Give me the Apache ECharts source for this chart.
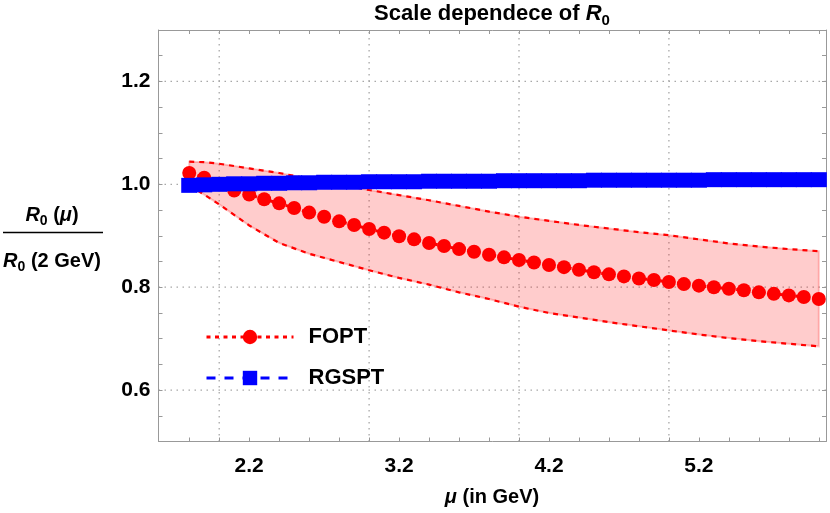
<!DOCTYPE html>
<html>
<head>
<meta charset="utf-8">
<script src="https://cdn.jsdelivr.net/npm/echarts@6/dist/echarts.min.js"></script>
<style>
  html, body { margin: 0; padding: 0; background: #fff; }
  #main { width: 830px; height: 513px; }
</style>
</head>
<body>
<div id="main"></div>
<script>
// scale values (GeV)
var muValues = [1.8, 1.9, 2.0, 2.1, 2.2, 2.3, 2.4, 2.5, 2.6, 2.7, 2.8, 2.9, 3.0, 3.1, 3.2, 3.3, 3.4, 3.5, 3.6, 3.7,
  3.8, 3.9, 4.0, 4.1, 4.2, 4.3, 4.4, 4.5, 4.6, 4.7, 4.8, 4.9, 5.0, 5.1, 5.2, 5.3, 5.4, 5.5, 5.6, 5.7, 5.8, 5.9, 6.0]
var foptValues = [1.022, 1.013, 1.000, 0.988, 0.980, 0.971, 0.963, 0.954, 0.945, 0.937, 0.928, 0.921, 0.913, 0.906,
  0.899, 0.893, 0.886, 0.880, 0.874, 0.869, 0.863, 0.858, 0.853, 0.848, 0.843, 0.839, 0.834, 0.829, 0.825, 0.821,
  0.817, 0.814, 0.810, 0.806, 0.803, 0.800, 0.797, 0.794, 0.790, 0.787, 0.784, 0.781, 0.777]
var rgsptValues = [0.998, 0.999, 1.000, 1.001, 1.001, 1.002, 1.002, 1.003, 1.003, 1.004, 1.004, 1.004, 1.005, 1.005,
  1.005, 1.005, 1.006, 1.006, 1.006, 1.006, 1.006, 1.007, 1.007, 1.007, 1.007, 1.007, 1.007, 1.008, 1.008, 1.008,
  1.008, 1.008, 1.008, 1.008, 1.008, 1.009, 1.009, 1.009, 1.009, 1.009, 1.009, 1.009, 1.009]

// FOPT scale-variation band
var bandMu = [1.8, 1.9, 2.0, 2.2, 2.4, 2.6, 2.8, 3.0, 3.2, 3.4, 3.6, 3.8, 4.0, 4.2, 4.4, 4.6, 4.8, 5.0, 5.2, 5.4, 5.6, 5.8, 6.0]
var bandUpper = [1.044, 1.043, 1.040, 1.031, 1.022, 1.011, 1.000, 0.989, 0.979, 0.969, 0.958, 0.947, 0.937, 0.929,
  0.921, 0.914, 0.907, 0.901, 0.893, 0.885, 0.879, 0.874, 0.870]
var bandLower = [0.998, 0.980, 0.961, 0.920, 0.886, 0.865, 0.849, 0.833, 0.818, 0.805, 0.790, 0.777, 0.762, 0.750,
  0.741, 0.732, 0.724, 0.716, 0.708, 0.701, 0.695, 0.690, 0.685]

// axes
var xTicks = [1.8, 2.0, 2.2, 2.4, 2.6, 2.8, 3.0, 3.2, 3.4, 3.6, 3.8, 4.0, 4.2, 4.4, 4.6, 4.8, 5.0, 5.2, 5.4, 5.6, 5.8, 6.0]
var xLabels = [2.2, 3.2, 4.2, 5.2]
var xGrid = [2, 3, 4, 5]
var yTicks = [0.55, 0.6, 0.65, 0.7, 0.75, 0.8, 0.85, 0.9, 0.95, 1.0, 1.05, 1.1, 1.15, 1.2, 1.25]
var yLabels = [0.6, 0.8, 1.0, 1.2]
var yGrid = [0.6, 0.8, 1.0, 1.2]

var X_MIN = 1.595, X_MAX = 6.048, Y_MIN = 0.5, Y_MAX = 1.3
var FONT = '"Liberation Sans", Arial, sans-serif'
var FRAME = '#999999'
var GRID = '#a8a8a8'

var chart = echarts.init(document.getElementById('main'))

function pairs(xs, ys) {
  return xs.map(function (x, i) { return [x, ys[i]] })
}

function frameAxis(pos, min, max, ticks, labels, showLabel) {
  return {
    type: 'value',
    position: pos,
    min: min,
    max: max,
    axisLine: { show: true, onZero: false, lineStyle: { color: FRAME, width: 1 } },
    axisTick: { show: true, inside: true, length: 4, customValues: ticks, lineStyle: { color: FRAME } },
    axisLabel: {
      show: showLabel,
      customValues: labels,
      margin: pos === 'left' ? 8 : 14,
      color: '#000',
      fontSize: 21,
      fontWeight: 'bold',
      fontFamily: FONT,
      formatter: function (v) { return v.toFixed(1) },
    },
    splitLine: { show: false },
  }
}

var option = {
  animation: false,
  backgroundColor: '#fff',
  grid: { left: 158.5, right: 4, top: 30, bottom: 71.5 },
  xAxis: [
    frameAxis('bottom', X_MIN, X_MAX, xTicks, xLabels, true),
    frameAxis('top', X_MIN, X_MAX, xTicks, xLabels, false),
  ],
  yAxis: [
    frameAxis('left', Y_MIN, Y_MAX, yTicks, yLabels, true),
    frameAxis('right', Y_MIN, Y_MAX, yTicks, yLabels, false),
  ],
  legend: {
    data: [
      { name: 'FOPT', lineStyle: { width: 3, type: [4, 4.5] } },
      { name: 'RGSPT', lineStyle: { width: 3, type: [9, 9] } },
    ],
    orient: 'vertical',
    left: 200,
    top: 321,
    itemWidth: 87,
    itemHeight: 18,
    itemGap: 19,
    selectedMode: false,
    textStyle: { fontSize: 22, fontWeight: 'bold', color: '#000', fontFamily: FONT, padding: [0, 0, 0, 10] },
  },
  graphic: [
    {
      type: 'text',
      x: 492,
      y: 14,
      style: {
        text: '{a|Scale dependece of }{r|R}{s|0}',
        align: 'center',
        verticalAlign: 'middle',
        textAlign: 'center',
        textVerticalAlign: 'middle',
        rich: {
          a: { fontSize: 22, fontWeight: 'bold', fontFamily: FONT, fill: '#000', lineHeight: 28 },
          r: { fontSize: 22, fontWeight: 'bold', fontStyle: 'italic', fontFamily: FONT, fill: '#000', lineHeight: 28 },
          s: { fontSize: 15, fontWeight: 'bold', fontFamily: FONT, fill: '#000', lineHeight: 28, verticalAlign: 'bottom' },
        },
      },
    },
    {
      type: 'text',
      x: 492,
      y: 497,
      style: {
        text: '{m|μ}{a| (in GeV)}',
        align: 'center',
        verticalAlign: 'middle',
        textAlign: 'center',
        textVerticalAlign: 'middle',
        rich: {
          m: { fontSize: 20, fontWeight: 'bold', fontStyle: 'italic', fontFamily: FONT, fill: '#000' },
          a: { fontSize: 20, fontWeight: 'bold', fontFamily: FONT, fill: '#000' },
        },
      },
    },
    {
      type: 'text',
      x: 52,
      y: 215,
      style: {
        text: '{r|R}{s|0}{a| (}{m|μ}{a|)}',
        align: 'center',
        verticalAlign: 'middle',
        textAlign: 'center',
        textVerticalAlign: 'middle',
        rich: {
          r: { fontSize: 20, fontWeight: 'bold', fontStyle: 'italic', fontFamily: FONT, fill: '#000', lineHeight: 26 },
          s: { fontSize: 14, fontWeight: 'bold', fontFamily: FONT, fill: '#000', lineHeight: 26, verticalAlign: 'bottom' },
          a: { fontSize: 20, fontWeight: 'bold', fontFamily: FONT, fill: '#000', lineHeight: 26 },
          m: { fontSize: 20, fontWeight: 'bold', fontStyle: 'italic', fontFamily: FONT, fill: '#000', lineHeight: 26 },
        },
      },
    },
    {
      type: 'line',
      shape: { x1: 3, y1: 232.5, x2: 103, y2: 232.5 },
      style: { stroke: '#000', lineWidth: 1.6 },
    },
    {
      type: 'text',
      x: 52,
      y: 261,
      style: {
        text: '{r|R}{s|0}{a| (2 GeV)}',
        align: 'center',
        verticalAlign: 'middle',
        textAlign: 'center',
        textVerticalAlign: 'middle',
        rich: {
          r: { fontSize: 20, fontWeight: 'bold', fontStyle: 'italic', fontFamily: FONT, fill: '#000', lineHeight: 26 },
          s: { fontSize: 14, fontWeight: 'bold', fontFamily: FONT, fill: '#000', lineHeight: 26, verticalAlign: 'bottom' },
          a: { fontSize: 20, fontWeight: 'bold', fontFamily: FONT, fill: '#000', lineHeight: 26 },
        },
      },
    },
  ],
  series: [
    {
      // vertical dotted grid lines
      type: 'custom',
      silent: true,
      z: 0,
      data: xGrid.map(function (v) { return [v, Y_MIN] }),
      renderItem: function (params, api) {
        var a = api.coord([api.value(0), Y_MIN])
        var b = api.coord([api.value(0), Y_MAX])
        return {
          type: 'line',
          shape: { x1: a[0], y1: a[1], x2: b[0], y2: b[1] },
          style: { stroke: GRID, lineWidth: 1.3, lineDash: [1.5, 4.5] },
        }
      },
    },
    {
      // horizontal dotted grid lines
      type: 'custom',
      silent: true,
      z: 0,
      data: yGrid.map(function (v) { return [X_MIN, v] }),
      renderItem: function (params, api) {
        var a = api.coord([X_MIN, api.value(1)])
        var b = api.coord([X_MAX, api.value(1)])
        return {
          type: 'line',
          shape: { x1: a[0], y1: a[1], x2: b[0], y2: b[1] },
          style: { stroke: GRID, lineWidth: 1.3, lineDash: [1.5, 4.5] },
        }
      },
    },
    {
      // shaded band
      type: 'custom',
      silent: true,
      z: 1,
      data: [[bandMu[0], bandUpper[0]]],
      renderItem: function (params, api) {
        var pts = []
        for (var i = 0; i < bandMu.length; i++) pts.push(api.coord([bandMu[i], bandUpper[i]]))
        for (var j = bandMu.length - 1; j >= 0; j--) pts.push(api.coord([bandMu[j], bandLower[j]]))
        return {
          type: 'polygon',
          shape: { points: pts },
          style: { fill: 'rgba(255, 0, 0, 0.2)', stroke: 'rgba(255, 0, 0, 0.22)', lineWidth: 2 },
        }
      },
    },
    {
      name: 'upper',
      type: 'line',
      z: 2,
      silent: true,
      symbol: 'none',
      data: pairs(bandMu, bandUpper),
      lineStyle: { color: '#ff0000', width: 2.2, type: [5, 5] },
    },
    {
      name: 'lower',
      type: 'line',
      z: 2,
      silent: true,
      symbol: 'none',
      data: pairs(bandMu, bandLower),
      lineStyle: { color: '#ff0000', width: 2.2, type: [5, 5] },
    },
    {
      name: 'FOPT',
      type: 'line',
      z: 3,
      data: pairs(muValues, foptValues),
      symbol: 'circle',
      symbolSize: 14,
      showAllSymbol: true,
      itemStyle: { color: '#ff0000' },
      lineStyle: { color: '#ff0000', width: 3, type: [4, 4.5] },
    },
    {
      name: 'RGSPT',
      type: 'line',
      z: 4,
      data: pairs(muValues, rgsptValues),
      symbol: 'rect',
      symbolSize: [16, 15],
      showAllSymbol: true,
      itemStyle: { color: '#0000ff' },
      lineStyle: { color: '#0000ff', width: 3, type: [9, 9] },
    },
  ],
}

chart.setOption(option)
</script>
</body>
</html>
